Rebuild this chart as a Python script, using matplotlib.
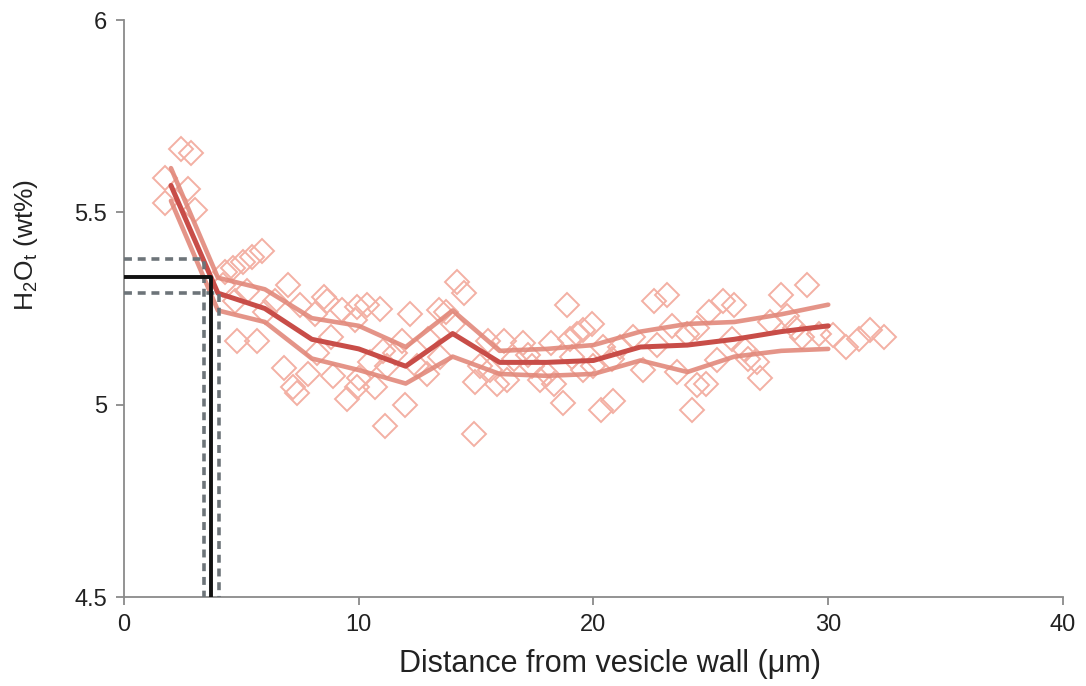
import matplotlib
matplotlib.use("Agg")
import matplotlib.pyplot as plt

plt.rcParams['font.family'] = ['Liberation Sans', 'DejaVu Sans']

# Scatter data (distance um, H2Ot wt%)
pts_x = [1.75, 2.43, 2.86, 2.73, 1.75, 3.03,
         5.87, 5.45, 5.08, 4.65, 4.3, 4.2, 5.23, 4.73, 7.0, 6.44, 6.0, 7.5, 8.5, 8.64,
         9.28, 9.92, 4.8, 5.66, 8.15, 8.2, 6.8, 7.85, 7.2, 7.36, 8.9, 9.5, 9.92, 8.8, 9.85,
         14.19, 14.47, 10.35, 10.92, 12.2, 13.4, 13.7, 14.0, 11.84, 12.96, 16.17, 17.0,
         15.5, 11.05, 11.55, 10.5, 11.2, 12.48, 12.9, 13.48, 15.18, 15.6, 16.3, 14.97,
         15.9, 10.0, 10.7, 11.98, 11.13, 14.9,
         16.6, 17.4, 18.0, 17.2,
         18.88, 22.56, 23.14, 19.94, 19.57, 19.3, 19.0, 18.2, 20.4, 21.15, 21.7, 22.7,
         23.35, 24.0, 17.7, 18.3, 18.7, 20.3, 20.85, 19.57, 20.0, 22.1, 23.56, 24.2, 24.4,
         19.1, 20.8,
         27.97, 29.1, 25.5, 26.0, 24.9, 24.4, 27.5, 28.26, 28.6, 28.9, 29.6, 30.2, 30.75,
         31.3, 31.8, 32.36, 25.9, 26.4, 26.6, 26.98, 25.27, 27.1, 24.8]
pts_y = [5.59, 5.665, 5.655, 5.56, 5.525, 5.505,
         5.40, 5.385, 5.37, 5.355, 5.345, 5.31, 5.295, 5.27, 5.31, 5.27, 5.24, 5.26, 5.28, 5.27,
         5.245, 5.255, 5.165, 5.165, 5.235, 5.135, 5.095, 5.08, 5.045, 5.03, 5.075, 5.015, 5.045, 5.175, 5.22,
         5.32, 5.29, 5.26, 5.25, 5.235, 5.245, 5.24, 5.21, 5.165, 5.17, 5.165, 5.16,
         5.165, 5.14, 5.135, 5.11, 5.10, 5.10, 5.08, 5.125, 5.10, 5.09, 5.065, 5.06,
         5.055, 5.07, 5.045, 5.0, 4.945, 4.925,
         5.12, 5.10, 5.08, 5.13,
         5.26, 5.27, 5.285, 5.21, 5.195, 5.185, 5.17, 5.16, 5.15, 5.15, 5.175, 5.155,
         5.205, 5.185, 5.065, 5.055, 5.005, 4.985, 5.01, 5.09, 5.10, 5.09, 5.085, 4.985, 5.05,
         5.125, 5.12,
         5.285, 5.31, 5.27, 5.26, 5.24, 5.20, 5.215, 5.23, 5.20, 5.175, 5.185, 5.18, 5.15,
         5.17, 5.195, 5.175, 5.17, 5.145, 5.12, 5.11, 5.115, 5.07, 5.055]

# Running-average lines
line_x = [2, 4, 6, 8, 10, 12, 14, 16, 18, 20, 22, 24, 26, 28, 30]
mean_y = [5.57, 5.29, 5.25, 5.17, 5.145, 5.10, 5.185, 5.11, 5.11, 5.115, 5.15, 5.155, 5.17, 5.19, 5.205]
upper_y = [5.615, 5.33, 5.30, 5.225, 5.205, 5.15, 5.245, 5.14, 5.145, 5.155, 5.19, 5.21, 5.215, 5.235, 5.26]
lower_y = [5.53, 5.245, 5.215, 5.12, 5.09, 5.055, 5.125, 5.08, 5.075, 5.08, 5.115, 5.085, 5.125, 5.14, 5.145]

# Equilibrium value and bounds
eq_val, eq_hi, eq_lo = 5.333, 5.379, 5.290
eq_x, eq_x_lo, eq_x_hi = 3.69, 3.41, 4.05

fig = plt.figure(figsize=(10.86, 6.86), dpi=100)
ax = fig.add_axes([0.1142, 0.1297, 0.8646, 0.8411])

ax.plot(pts_x, pts_y, linestyle='none', marker='D', markersize=12.5,
        markerfacecolor='none', markeredgecolor='#f3b0a4', markeredgewidth=1.4, zorder=2)

ax.plot(line_x, upper_y, color='#e2897b', lw=3.3, alpha=0.9, solid_capstyle='round', zorder=3)
ax.plot(line_x, lower_y, color='#e2897b', lw=3.3, alpha=0.9, solid_capstyle='round', zorder=3)
ax.plot(line_x, mean_y, color='#c84d48', lw=3.6, solid_capstyle='round', zorder=4)

dash_kw = dict(color='#6d7479', lw=2.6, linestyle=(0, (2.2, 1.6)), zorder=5)
ax.plot([0, eq_x_lo, eq_x_lo], [eq_hi, eq_hi, 4.5], **dash_kw)
ax.plot([0, eq_x_hi, eq_x_hi], [eq_lo, eq_lo, 4.5], **dash_kw)
ax.plot([0, eq_x, eq_x], [eq_val, eq_val, 4.5], color='#111111', lw=2.8, zorder=6)

ax.set_xlim(0, 40)
ax.set_ylim(4.5, 6)
ax.set_xticks([0, 10, 20, 30, 40])
ax.set_yticks([4.5, 5, 5.5, 6])
ax.set_yticklabels(['4.5', '5', '5.5', '6'])

for s in ['top', 'right']:
    ax.spines[s].set_visible(False)
for s in ['left', 'bottom']:
    ax.spines[s].set_color('#8a8a8a')
    ax.spines[s].set_linewidth(1.3)
ax.tick_params(direction='out', length=6, width=1.3, color='#8a8a8a',
               labelsize=17, labelcolor='#222222', pad=6)

ax.set_xlabel('Distance from vesicle wall (\u03bcm)', fontsize=22, color='#222222')
ax.xaxis.set_label_coords(0.518, -0.09)
ax.set_ylabel('H$_\\mathregular{2}$O$_\\mathregular{t}$ (wt%)', fontsize=19, color='#222222')
ax.yaxis.set_label_coords(-0.09, 0.61)

fig.savefig('out.png', dpi=100, facecolor='white')
